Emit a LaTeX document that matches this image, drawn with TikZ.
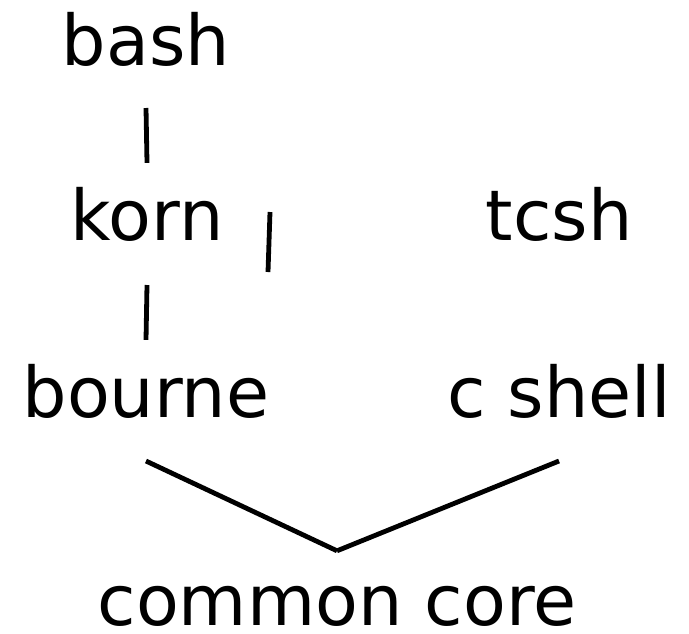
\documentclass[tikz,border=0pt]{standalone}
\usepackage{fontspec}
\setmainfont{DejaVu Sans}
\usepackage{tikz}
\usetikzlibrary{positioning}

\begin{document}
\begin{tikzpicture}[
		x=0.5pt, y=-0.5pt,
		shell/.style={font=\fontsize{35}{40}\selectfont, inner sep=0pt, outer sep=0pt, anchor=base},
		edge/.style ={black, line width=2.4pt},
	]

	\useasboundingbox (0,0) rectangle (689,633);

	% nodes
	\foreach \name/\x/\y/\txt in {bash/146/65/bash, korn/147/240/korn, tcsh/559/240/tcsh,%
		bourne/146/417/bourne, cshell/559/417/c shell, core/337/625/common core}
			\node [shell] (\name) at (\x,\y) {\txt};

	\coordinate (ticktop) at (270,212);
	\coordinate (tickbot) at (268,272);

	% interconnections
	\draw [edge] ([yshift=-21.5pt]bash.base) -- ([yshift=12pt]korn.north);
	\draw [edge] ([yshift=-22.5pt]korn.base) -- ([yshift=12pt]bourne.north);
	\draw [edge] (ticktop) -- (tickbot);

	\foreach \from in {bourne, cshell}
		\draw [edge] ([yshift=-22pt]\from.base) -- ([yshift=17.5pt]core.north);

\end{tikzpicture}
\end{document}
